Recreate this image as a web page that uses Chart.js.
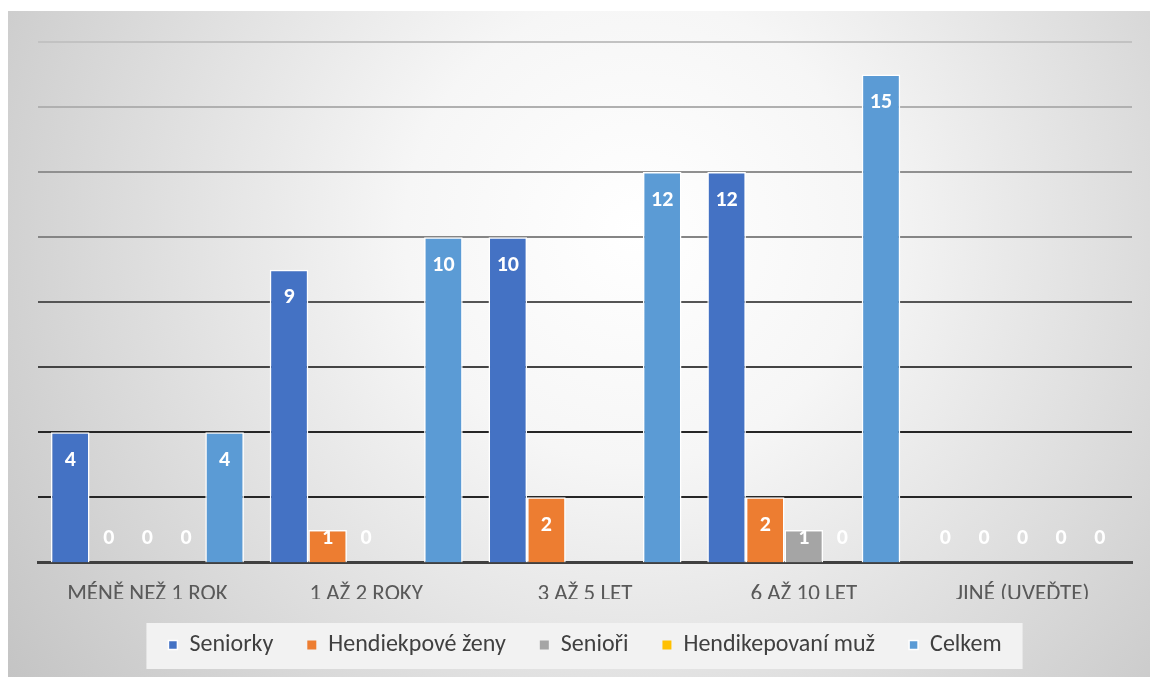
<!DOCTYPE html>
<html>
<head>
    <meta charset="utf-8">
    <title>Délka spolupráce</title>
    <style>
        body {
            margin: 0;
            background: #ffffff;
        }
        #chart-container {
            position: absolute;
            left: 8px;
            top: 11px;
            width: 1142px;
            height: 666px;
            background: radial-gradient(circle farthest-corner at 55% 33%, #ffffff 0%, #f6f6f6 30%, #c4c4c4 100%);
        }
    </style>
    <script src="https://cdn.jsdelivr.net/npm/chart.js"></script>
</head>
<body>
    <div id="chart-container">
        <canvas id="chart" width="1142" height="666"></canvas>
    </div>
    <script>
        const categories = ['MÉNĚ NEŽ 1 ROK', '1 AŽ 2 ROKY', '3 AŽ 5 LET', '6 AŽ 10 LET', 'JINÉ (UVEĎTE)'];
        const seriesNames = ['Seniorky', 'Hendiekpové ženy', 'Senioři', 'Hendikepovaní muž', 'Celkem'];
        const seniorky = [4, 9, 10, 12, 0];
        const hendikepoveZeny = [0, 1, 2, 2, 0];
        const seniori = [0, 0, null, 1, 0];
        const hendikepovaniMuz = [0, null, null, 0, 0];
        const celkem = [4, 10, 12, 15, 0];
        const yTicks = [0, 2, 4, 6, 8, 10, 12, 14, 16];

        const seriesColors = ['#4472C4', '#ED7D31', '#A5A5A5', '#FFC000', '#5B9BD5'];
        // gridlines fade out toward the top
        const gridColors = ['#404040', '#262626', '#262626', '#444444', '#555555', '#858585', '#909090', '#b0b0b0', '#c2c2c2'];
        const font = 'Carlito, Lato, sans-serif';

        const values = [seniorky, hendikepoveZeny, seniori, hendikepovaniMuz, celkem];

        // white value labels near the top of each bar
        const valueLabels = {
            id: 'valueLabels',
            afterDatasetsDraw(chart) {
                const ctx = chart.ctx;
                ctx.save();
                ctx.fillStyle = '#ffffff';
                ctx.font = 'bold 22px ' + font;
                ctx.textAlign = 'center';
                ctx.textBaseline = 'middle';
                chart.data.datasets.forEach((ds, i) => {
                    chart.getDatasetMeta(i).data.forEach((bar, j) => {
                        const v = ds.data[j];
                        if (v === null || v === undefined) return;
                        const y = Math.min(bar.y + 28, bar.base - 24);
                        ctx.fillText(String(v), bar.x, y);
                    });
                });
                ctx.restore();
            }
        };

        // light panel behind the legend
        const legendPanel = {
            id: 'legendPanel',
            beforeDraw(chart) {
                const lg = chart.legend;
                if (!lg || !lg.legendHitBoxes.length) return;
                const boxes = lg.legendHitBoxes;
                const left = boxes[0].left - 22;
                const last = boxes[boxes.length - 1];
                const right = last.left + last.width + 21;
                const mid = boxes[0].top + boxes[0].height / 2;
                const ctx = chart.ctx;
                ctx.save();
                ctx.fillStyle = '#f2f2f2';
                ctx.fillRect(left, mid - 22, right - left, 46);
                ctx.restore();
            }
        };

        new Chart(document.getElementById('chart'), {
            type: 'bar',
            data: {
                labels: categories,
                datasets: seriesNames.map((name, i) => ({
                    label: name,
                    data: values[i],
                    backgroundColor: seriesColors[i],
                    borderColor: '#ffffff',
                    borderWidth: ctx => (ctx.raw ? 1.5 : 0),
                    borderSkipped: 'bottom',
                    categoryPercentage: 0.882,
                    barPercentage: 1.0
                }))
            },
            options: {
                responsive: false,
                animation: false,
                layout: {
                    padding: { left: 30, right: 18, top: 31, bottom: 10 }
                },
                scales: {
                    x: {
                        grid: { display: false, drawTicks: false },
                        border: { display: true, color: '#404040', width: 3 },
                        ticks: {
                            color: '#595959',
                            font: { family: font, size: 23 },
                            padding: 18
                        },
                        // labels hang into the gap above the legend
                        afterFit: axis => {
                            axis.height -= 27;
                        }
                    },
                    y: {
                        min: 0,
                        max: 16,
                        afterBuildTicks: axis => {
                            axis.ticks = yTicks.map(v => ({ value: v }));
                        },
                        grid: {
                            drawTicks: false,
                            lineWidth: ctx => (ctx.index === 0 ? 0 : 2),
                            color: ctx => gridColors[ctx.index] || '#c2c2c2'
                        },
                        border: { display: false },
                        ticks: { display: false }
                    }
                },
                plugins: {
                    legend: {
                        position: 'bottom',
                        labels: {
                            color: '#404040',
                            font: { family: font, size: 24 },
                            boxWidth: 9,
                            boxHeight: 9,
                            padding: 34
                        }
                    },
                    tooltip: { enabled: false }
                }
            },
            plugins: [legendPanel, valueLabels]
        });
    </script>
</body>
</html>
